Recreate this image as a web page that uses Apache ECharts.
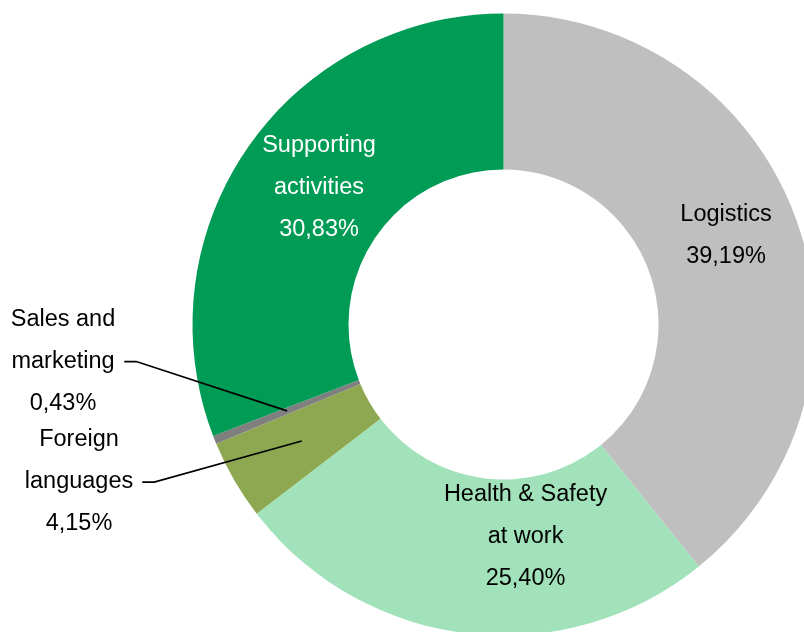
<!DOCTYPE html>
<html>
<head>
<meta charset="utf-8">
<style>
  html, body { margin: 0; padding: 0; background: #ffffff; }
  #chart { width: 804px; height: 632px; }
</style>
<script src="https://cdn.jsdelivr.net/npm/echarts@6/dist/echarts.min.js"></script>
</head>
<body>
<div id="chart"></div>
<script>
// Training hours by area, clockwise from 12 o'clock
const categories = ['Logistics', 'Health & Safety\nat work', 'Foreign\nlanguages', 'Sales and\nmarketing', 'Supporting\nactivities'];
const shares = [39.19, 25.40, 4.15, 0.43, 30.83];
const colors = ['#bfbfbf', '#a1e2ba', '#8da850', '#7f7f7f', '#009b55'];

// Which slices get their label inside the ring, and which outside with a leader line
const insideLabel = [true, true, false, false, true];
const insideLabelColor = ['#000000', '#000000', null, null, '#ffffff'];
const insideLabelOffset = [[0, -10], [50, -22], null, null, [10, -3.5]];
const outsideLabelPos = [null, null, [79, 482], [63, 361.5], null];

const FONT = '"Liberation Sans", Arial, Helvetica, sans-serif';
const fmt = (name, v) => name + '\n' + v.toFixed(2).replace('.', ',') + '%';

const CENTER = [503.5, 324.5];
const R_INNER = 155;
const R_OUTER = 311;

const chart = echarts.init(document.getElementById('chart'), null, { renderer: 'canvas' });

const ringData = categories.map((name, i) => ({
  name: name,
  value: shares[i],
  itemStyle: { color: colors[i] },
  label: insideLabel[i]
    ? { show: true, color: insideLabelColor[i], offset: insideLabelOffset[i] }
    : { show: false }
}));

// Transparent copy of the same slices reaching to the middle of the ring,
// used only to anchor the leader lines of the small slices there
const anchorData = categories.map((name, i) => ({
  name: name,
  value: shares[i],
  label: { show: !insideLabel[i] },
  labelLine: { show: !insideLabel[i] }
}));

chart.setOption({
  animation: false,
  backgroundColor: '#ffffff',
  series: [
    {
      type: 'pie',
      center: CENTER,
      radius: [R_INNER, R_OUTER],
      startAngle: 90,
      clockwise: true,
      avoidLabelOverlap: false,
      itemStyle: { borderWidth: 0 },
      label: {
        position: 'inside',
        fontFamily: FONT,
        fontSize: 23.5,
        lineHeight: 42,
        align: 'center',
        formatter: p => fmt(p.name, p.value)
      },
      labelLine: { show: false },
      emphasis: { disabled: true },
      data: ringData
    },
    {
      type: 'pie',
      z: 5,
      silent: true,
      center: CENTER,
      radius: [0, (R_INNER + R_OUTER) / 2],
      startAngle: 90,
      clockwise: true,
      avoidLabelOverlap: false,
      itemStyle: { color: 'rgba(0,0,0,0)', borderWidth: 0 },
      label: {
        position: 'outside',
        fontFamily: FONT,
        fontSize: 23.5,
        lineHeight: 42,
        color: '#000000',
        align: 'center',
        padding: [0, 9, 0, 9],
        formatter: p => fmt(p.name, p.value)
      },
      labelLine: {
        length: 20,
        length2: 12,
        smooth: false,
        lineStyle: { color: '#000000', width: 1.75 }
      },
      labelLayout: params => {
        const pos = outsideLabelPos[params.dataIndex];
        if (!pos) return {};
        return { x: pos[0], y: pos[1], align: 'center', verticalAlign: 'middle' };
      },
      emphasis: { disabled: true },
      data: anchorData
    }
  ]
});
</script>
</body>
</html>
